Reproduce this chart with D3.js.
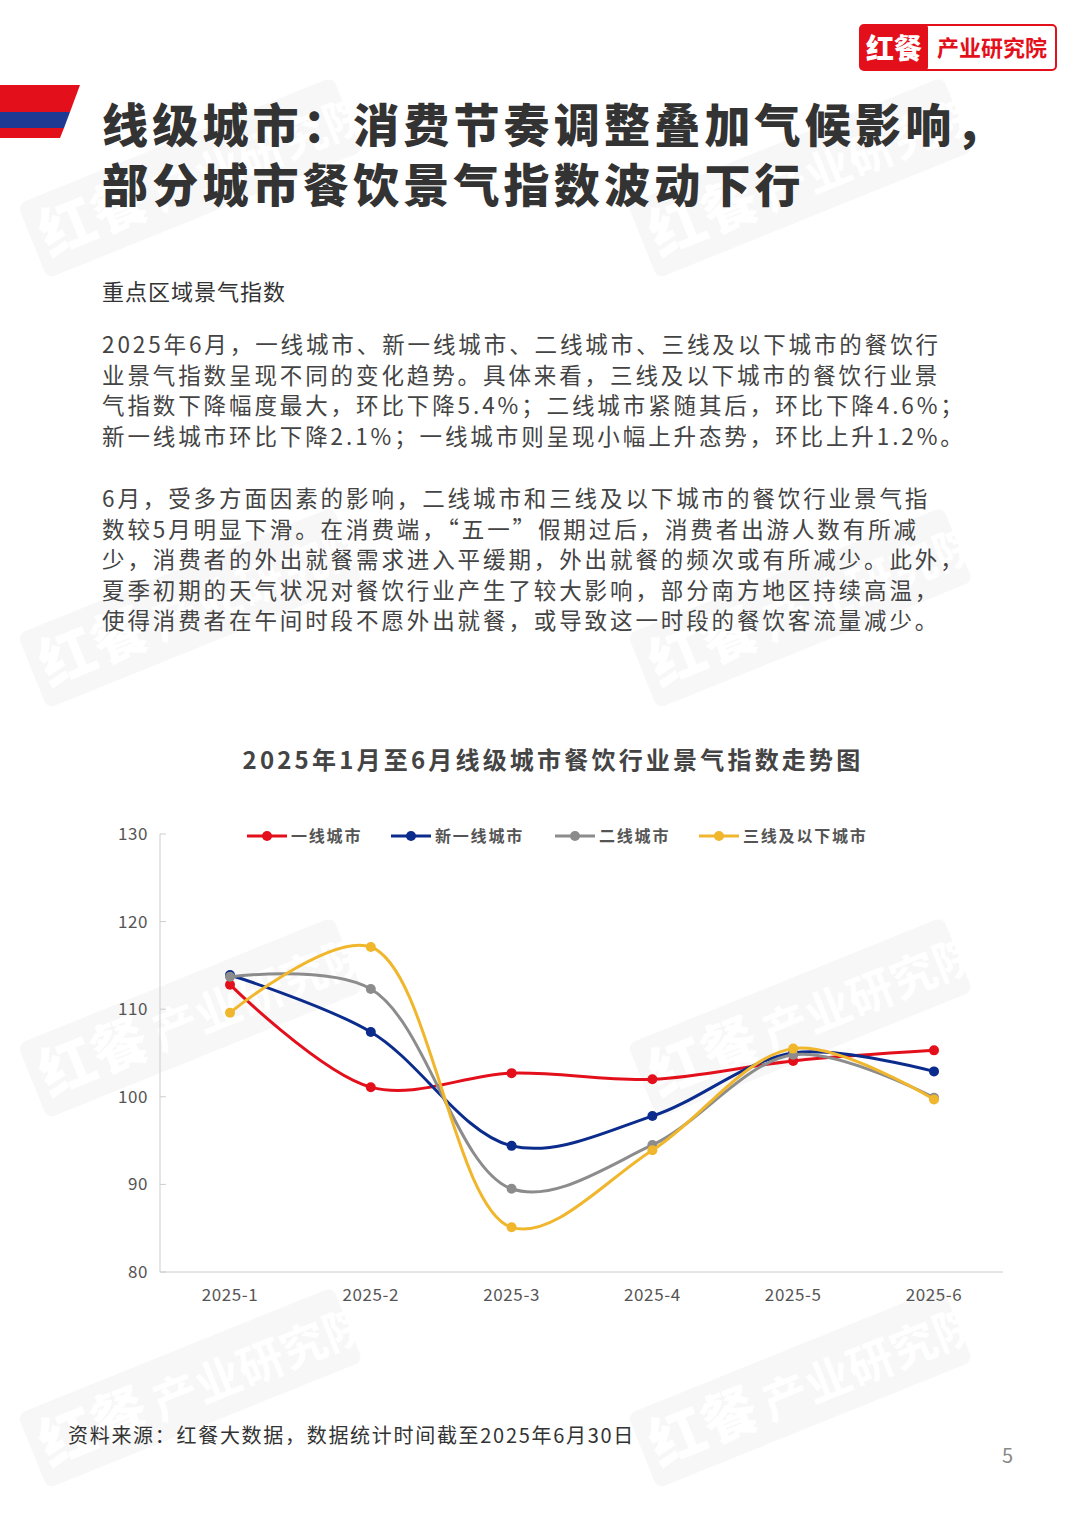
<!DOCTYPE html>
<html><head><meta charset="utf-8">
<script src="https://cdn.jsdelivr.net/npm/d3@7"></script>
<style>
body{margin:0;background:#fff;font-family:"Noto Sans CJK SC","Noto Sans",sans-serif;}
</style></head><body>
<svg id="page" width="1080" height="1528"></svg>
<script>
var months = ["2025-1","2025-2","2025-3","2025-4","2025-5","2025-6"];
var seriesNames = ["一线城市","新一线城市","二线城市","三线及以下城市"];
var seriesColors = ["#e3101c","#0b2c8c","#8c8c8c","#f0b62c"];
var tier1 = [112.8,101.1,102.7,102.0,104.1,105.3];
var newTier1 = [113.9,107.4,94.4,97.8,105.0,102.9];
var tier2 = [113.7,112.3,89.5,94.5,104.8,99.9];
var tier3 = [109.6,117.1,85.1,93.9,105.5,99.7];
var yTicks = [80,90,100,110,120,130];
var allSeries = [tier1,newTier1,tier2,tier3];

var svg = d3.select("#page");

// watermarks
var wm = [[40,260],[650,260],[40,690],[650,690],[40,1100],[650,1100],[40,1470],[650,1470]];
wm.forEach(function(p){
  var g = svg.append("g").attr("transform","translate("+p[0]+","+p[1]+") rotate(-22)").attr("opacity",0.045);
  g.append("rect").attr("x",0).attr("y",-60).attr("width",340).attr("height",80).attr("rx",8).attr("fill","#555");
  g.append("text").attr("x",10).attr("y",0).attr("font-size",56).attr("font-weight",900).attr("fill","#fff").text("红餐");
  g.append("text").attr("x",130).attr("y",0).attr("font-size",46).attr("font-weight",700).attr("fill","#fff").text("产业研究院");
});

// logo
svg.append("rect").attr("x",860).attr("y",25).attr("width",196).attr("height",45).attr("rx",4).attr("fill","#fff").attr("stroke","#e3101c").attr("stroke-width",2);
svg.append("rect").attr("x",860).attr("y",25).attr("width",68).attr("height",45).attr("rx",3).attr("fill","#e3101c");
svg.append("text").attr("x",894).attr("y",59).attr("text-anchor","middle").attr("font-size",28).attr("font-weight",900).attr("fill","#fff").text("红餐");
svg.append("text").attr("x",992).attr("y",56).attr("text-anchor","middle").attr("font-size",22).attr("font-weight",700).attr("fill","#e3101c").text("产业研究院");

// flag
svg.append("path").attr("d","M0,85 L80,85 L70,112 L0,112Z").attr("fill","#e3101c");
svg.append("path").attr("d","M0,112 L70,112 L64,128 L0,128Z").attr("fill","#1f3a93");
svg.append("path").attr("d","M0,128 L64,128 L60,138 L0,138Z").attr("fill","#e3101c");

svg.append("text").attr("x",102).attr("y",142).attr("font-size",46).attr("font-weight",900).attr("fill","#333").attr("letter-spacing",4.2).text("线级城市：消费节奏调整叠加气候影响，");
svg.append("text").attr("x",102).attr("y",202).attr("font-size",46).attr("font-weight",900).attr("fill","#333").attr("letter-spacing",4.2).text("部分城市餐饮景气指数波动下行");

svg.append("text").attr("x",102).attr("y",300).attr("font-size",22).attr("fill","#333").attr("letter-spacing",1).text("重点区域景气指数");
var para = ["2025年6月，一线城市、新一线城市、二线城市、三线及以下城市的餐饮行",
"业景气指数呈现不同的变化趋势。具体来看，三线及以下城市的餐饮行业景",
"气指数下降幅度最大，环比下降5.4%；二线城市紧随其后，环比下降4.6%；",
"新一线城市环比下降2.1%；一线城市则呈现小幅上升态势，环比上升1.2%。",
"",
"6月，受多方面因素的影响，二线城市和三线及以下城市的餐饮行业景气指",
"数较5月明显下滑。在消费端，“五一”假期过后，消费者出游人数有所减",
"少，消费者的外出就餐需求进入平缓期，外出就餐的频次或有所减少。此外，",
"夏季初期的天气状况对餐饮行业产生了较大影响，部分南方地区持续高温，",
"使得消费者在午间时段不愿外出就餐，或导致这一时段的餐饮客流量减少。"];
var yy = 353;
para.forEach(function(l,i){
  if(l==="") { yy += 32; return; }
  svg.append("text").attr("x",102).attr("y",yy).attr("font-size",22.5).attr("fill","#444").attr("letter-spacing",2.9).text(l);
  yy += 30.5;
});

svg.append("text").attr("x",553).attr("y",769).attr("text-anchor","middle").attr("font-size",24).attr("font-weight",700).attr("fill","#444").attr("letter-spacing",3.2).text("2025年1月至6月线级城市餐饮行业景气指数走势图");

var x = d3.scalePoint().domain(months).range([230,934]);
var y = d3.scaleLinear().domain([80,130]).range([1272,834]);

svg.append("line").attr("x1",160).attr("x2",160).attr("y1",834).attr("y2",1272).attr("stroke","#ccc");
svg.append("line").attr("x1",160).attr("x2",1003).attr("y1",1272).attr("y2",1272).attr("stroke","#ccc");
yTicks.forEach(function(t){
  svg.append("line").attr("x1",160).attr("x2",166).attr("y1",y(t)).attr("y2",y(t)).attr("stroke","#ccc");
  svg.append("text").attr("x",148).attr("y",y(t)+6).attr("text-anchor","end").attr("font-size",17).attr("fill","#555").attr("letter-spacing",0.6).text(t);
});
months.forEach(function(m){
  svg.append("text").attr("x",x(m)).attr("y",1301).attr("text-anchor","middle").attr("font-size",17).attr("fill","#555").attr("letter-spacing",0.6).text(m);
});

var line = d3.line().x(function(d,i){return x(months[i]);}).y(function(d){return y(d);}).curve(d3.curveCatmullRom.alpha(0.5));
allSeries.forEach(function(s,k){
  svg.append("path").attr("d",line(s)).attr("fill","none").attr("stroke",seriesColors[k]).attr("stroke-width",3);
  s.forEach(function(v,i){
    svg.append("circle").attr("cx",x(months[i])).attr("cy",y(v)).attr("r",5).attr("fill",seriesColors[k]);
  });
});

// legend
var lx = [247,391,555,699];
seriesNames.forEach(function(n,k){
  svg.append("line").attr("x1",lx[k]).attr("x2",lx[k]+40).attr("y1",836).attr("y2",836).attr("stroke",seriesColors[k]).attr("stroke-width",3);
  svg.append("circle").attr("cx",lx[k]+20).attr("cy",836).attr("r",5).attr("fill",seriesColors[k]);
  svg.append("text").attr("x",lx[k]+44).attr("y",842).attr("font-size",16).attr("font-weight",700).attr("fill","#555").attr("letter-spacing",1.8).text(n);
});

svg.append("text").attr("x",68).attr("y",1443).attr("font-size",20).attr("fill","#333").attr("letter-spacing",1.7).text("资料来源：红餐大数据，数据统计时间截至2025年6月30日");
svg.append("text").attr("x",1013).attr("y",1463).attr("text-anchor","end").attr("font-size",20).attr("fill","#888").text("5");
</script>
</body></html>
